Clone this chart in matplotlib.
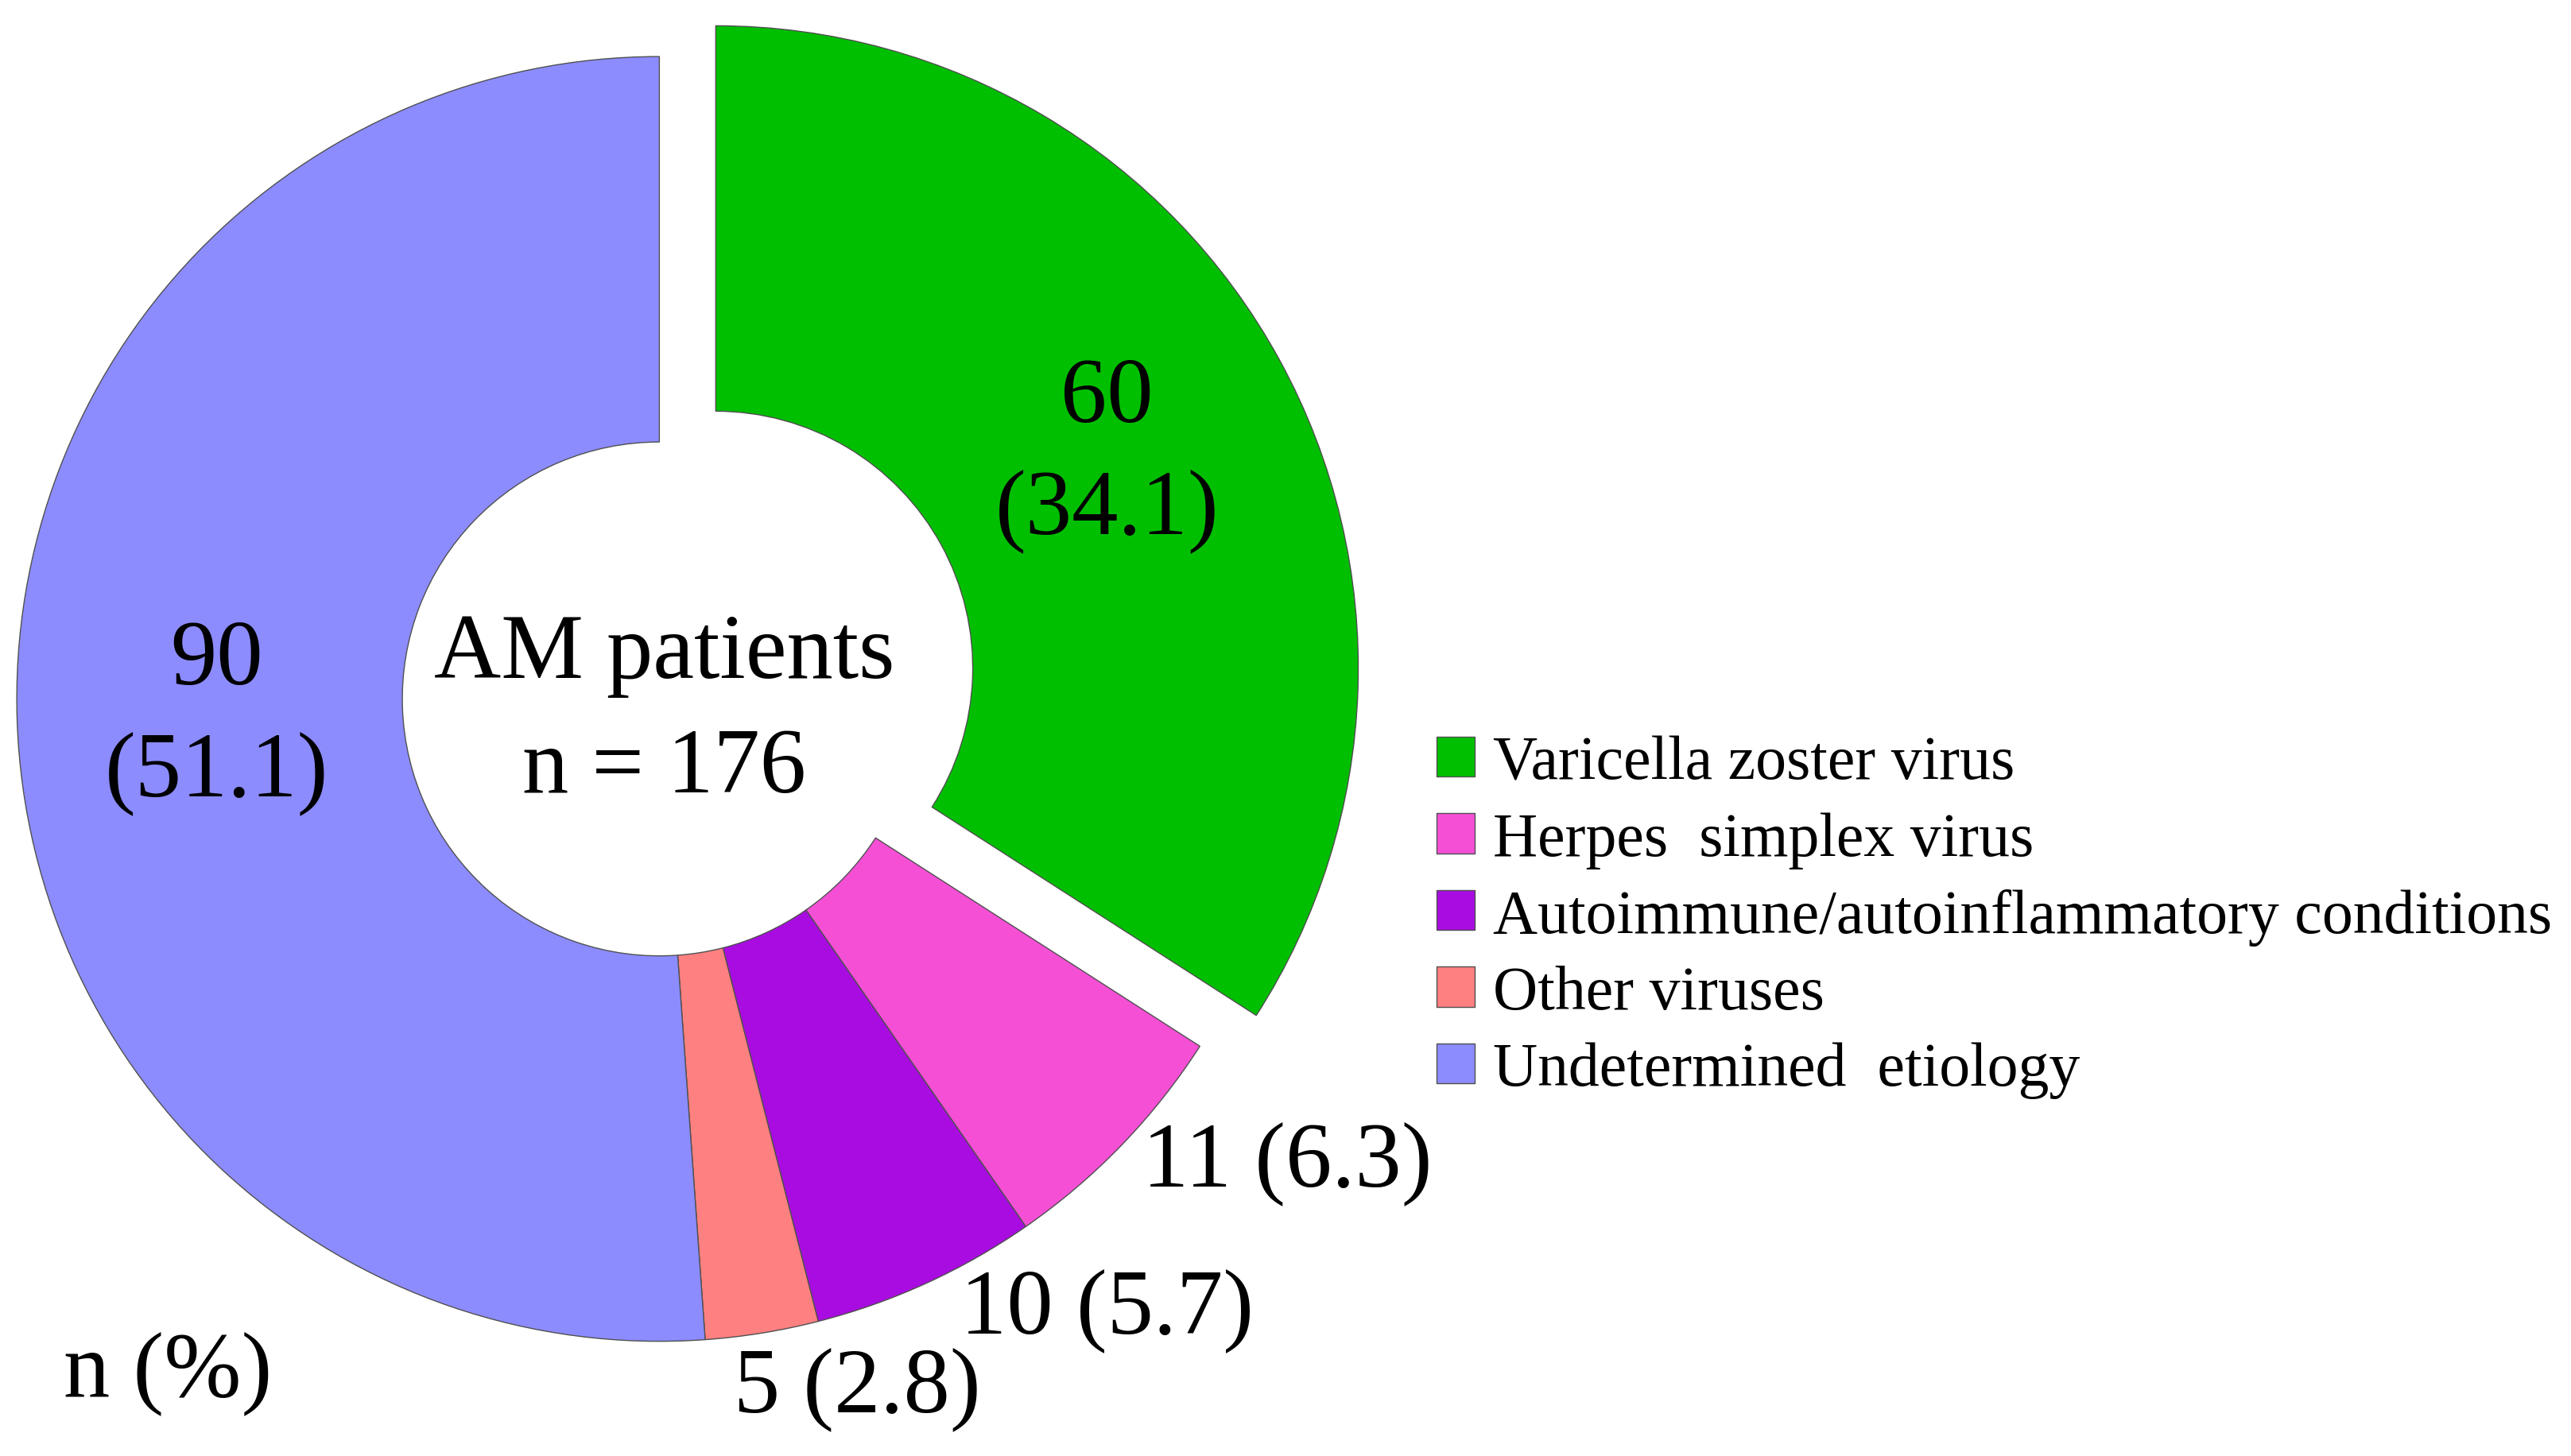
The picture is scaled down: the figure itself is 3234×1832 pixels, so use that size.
import matplotlib
matplotlib.use("Agg")
import matplotlib.pyplot as plt

labels = [
    "Varicella zoster virus",
    "Herpes  simplex virus",
    "Autoimmune/autoinflammatory conditions",
    "Other viruses",
    "Undetermined  etiology",
]
counts = [60, 11, 10, 5, 90]
percents = [34.1, 6.3, 5.7, 2.8, 51.1]
colors = ["#00BF00", "#F54FD6", "#A80CE0", "#FF8080", "#8C8CFF"]
explode_frac = [0.1, 0, 0, 0, 0]

plt.rcParams["font.family"] = ["Liberation Serif", "DejaVu Serif"]

# layout is worked out in a 1568 x 889 reference grid (y down)
W, H = 1568, 889
fig = plt.figure(figsize=(32.34, 18.33), dpi=100)
ax = fig.add_axes([0, 0, 1, 1])
ax.set_aspect("equal")
ax.axis("off")


def pos(x, y):
    return x, H - y


cx, cy = pos(402, 427)
R = 392
# pie's explode is in data units, not fractions of the radius
wedges, _ = ax.pie(
    counts, colors=colors, explode=[e * R for e in explode_frac],
    startangle=90, counterclock=False, center=(cx, cy), radius=R,
    wedgeprops=dict(width=0.6 * R, edgecolor="#505050", linewidth=1.0),
)
ax.set_xlim(0, W)
ax.set_ylim(0, H)

fs = 84
ax.text(*pos(405, 400), "AM patients", ha="center", va="center", fontsize=fs)
ax.text(*pos(405, 470), "n = 176", ha="center", va="center", fontsize=fs)

# slice labels: n (%)
lab_pos = [(675, 278), (785, 710), (675, 800), (523, 848), (132, 438)]
for i, (x, y) in enumerate(lab_pos):
    if i in (0, 4):
        txt = f"{counts[i]}\n({percents[i]})"
    else:
        txt = f"{counts[i]} ({percents[i]})"
    ax.text(*pos(x, y), txt, ha="center", va="center", fontsize=fs, linespacing=1.42)

ax.text(*pos(102, 838), "n (%)", ha="center", va="center", fontsize=fs)

leg = ax.legend(
    wedges, labels, loc="center left", bbox_to_anchor=(876 / W, 1 - 560 / H),
    bbox_transform=fig.transFigure, frameon=False, fontsize=56,
    handlelength=0.62, handleheight=0.62, handletextpad=0.3,
    labelspacing=0.32, borderpad=0, borderaxespad=0,
)

fig.savefig("out.png", dpi=100)
